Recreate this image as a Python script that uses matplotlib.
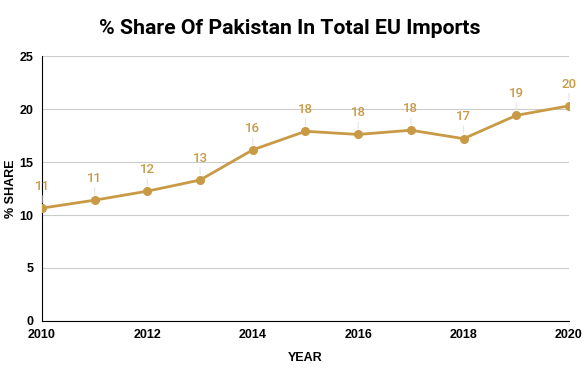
import matplotlib.pyplot as plt

years = [2010, 2011, 2012, 2013, 2014, 2015, 2016, 2017, 2018, 2019, 2020]
share = [10.65, 11.4, 12.25, 13.3, 16.15, 17.9, 17.6, 18.0, 17.2, 19.4, 20.3]
labels = ['11', '11', '12', '13', '16', '18', '18', '18', '17', '19', '20']

gold = '#C99A45'

fig = plt.figure(figsize=(5.85, 3.71), dpi=100)
ax = fig.add_axes([0.0718, 0.1348, 0.9008, 0.7142])

ax.plot(years, share, color=gold, lw=2, marker='o', ms=5.5, zorder=3)

for x, y, t in zip(years, share, labels):
    ax.annotate(t, xy=(x, y), xytext=(0, 11), textcoords='offset points',
                ha='center', va='bottom', color=gold, fontsize=9.5,
                family='Roboto', fontweight='medium',
                arrowprops=dict(arrowstyle='-', color='#e4e4e4', lw=0.8,
                                shrinkA=0, shrinkB=4))

ax.set_xlim(2010, 2020)
ax.set_ylim(0, 25)
ax.set_xticks([2010, 2012, 2014, 2016, 2018, 2020])
ax.set_yticks([0, 5, 10, 15, 20, 25])
ax.grid(axis='y', color='#cccccc', lw=0.8)
ax.set_axisbelow(True)
for s in ['top', 'right']:
    ax.spines[s].set_visible(False)
ax.spines['left'].set_color('black')
ax.spines['bottom'].set_color('black')
ax.tick_params(length=0, labelsize=9, pad=6)
for lab in ax.get_xticklabels() + ax.get_yticklabels():
    lab.set_family('Liberation Sans')
    lab.set_fontweight('bold')

ax.set_xlabel('YEAR', family='Liberation Sans', fontweight='bold', fontsize=9, labelpad=8)
ax.set_ylabel('% SHARE', family='Liberation Sans', fontweight='bold', fontsize=9)
ax.yaxis.set_label_coords(-0.048, 0.5)

fig.suptitle('% Share Of Pakistan In Total EU Imports', x=0.495, y=0.95,
             family='Roboto', fontweight='bold', fontsize=15.3)

fig.savefig('out.png', dpi=100)
